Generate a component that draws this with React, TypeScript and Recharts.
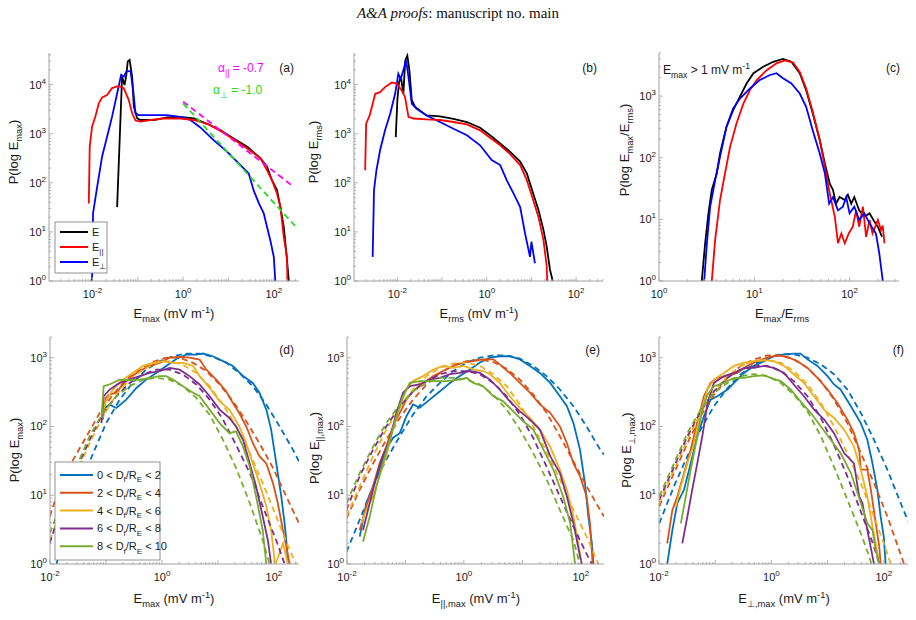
import React from 'react'
import { LineChart, Line, XAxis, YAxis } from 'recharts'

const FONT = '"Liberation Sans", Arial, Helvetica, sans-serif'
const AX = '#a0a0a0'
const TXT = '#1a1a1a'
const MB = '#0072BD'
const MO = '#D95319'
const MY = '#EDB120'
const MP = '#7E2F8E'
const MG = '#77AC30'

// tick label exponents
const xLabTop = [-2, 0, 2]
const xLabC = [0, 1, 2]
const xLabBottom = [-2, 0, 2]
const yLabTop = [0, 1, 2, 3, 4]
const yLabC = [0, 1, 2, 3]
const yLabBottom = [0, 1, 2, 3]

// (a) P(log Emax)
const aE = [[0.035, 32], [0.045, 14500], [0.051, 9800], [0.056, 15800], [0.06, 29500], [0.066, 31800], [0.075, 14500], [0.082, 3550], [0.097, 2050], [0.114, 1900], [0.225, 1900], [0.44, 2150], [0.87, 2200], [1.72, 2060], [3.4, 1590], [6.7, 1180], [13, 800], [26, 540], [51, 315], [71, 212], [91, 113], [118, 71], [140, 32], [166, 12.6], [190, 3.6], [215, 1]]
const aPar = [[0.0083, 38], [0.0087, 540], [0.0098, 1390], [0.0116, 2230], [0.0138, 4160], [0.0163, 5500], [0.021, 6100], [0.027, 8500], [0.038, 9400], [0.049, 8500], [0.063, 4900], [0.075, 2600], [0.089, 1850], [0.114, 1760], [0.19, 1900], [0.375, 2040], [0.87, 2040], [1.72, 1900], [3.4, 1590], [6.7, 1140], [13, 770], [26, 500], [51, 315], [71, 180], [91, 113], [118, 60], [140, 32], [166, 7.9], [195, 3.1], [200, 1]]
const aPerp = [[0.0098, 1], [0.0103, 24], [0.0127, 83], [0.0163, 340], [0.021, 870], [0.027, 2200], [0.035, 6600], [0.043, 15800], [0.049, 14500], [0.056, 18500], [0.069, 19000], [0.079, 7800], [0.089, 2600], [0.105, 2400], [0.225, 2400], [0.44, 2400], [0.87, 2200], [1.45, 1900], [2.4, 1340], [4.7, 740], [9.3, 430], [18.4, 230], [28, 155], [36, 70], [47, 38], [60, 24], [71, 12.6], [84, 6.7], [100, 3.1], [108, 1]]
const aFitPar = [[1, 4500], [275, 83]]
const aFitPerp = [[1, 4150], [300, 13]]

// (b) P(log Erms)
const bE = [[0.0092, 850], [0.01, 4800], [0.0109, 11200], [0.012, 14500], [0.0136, 6500], [0.015, 31000], [0.0167, 39000], [0.0186, 19500], [0.021, 4800], [0.025, 3500], [0.045, 2350], [0.09, 2260], [0.18, 2000], [0.36, 1730], [0.71, 1320], [1.19, 930], [2.0, 630], [3.3, 430], [5.6, 270], [7.9, 155], [11, 60], [14.4, 28], [18.6, 11], [22, 5], [26, 1.7], [30, 1]]
const bPar = [[0.0019, 180], [0.002, 1600], [0.0024, 2350], [0.0032, 6500], [0.0041, 7000], [0.0053, 8900], [0.0075, 11000], [0.0097, 10500], [0.0125, 7600], [0.0148, 5600], [0.0177, 2200], [0.023, 2040], [0.045, 1950], [0.09, 1900], [0.18, 1730], [0.36, 1550], [0.71, 1170], [1.19, 830], [2.0, 580], [3.3, 390], [5.6, 230], [7.9, 113], [11, 44], [14.4, 20], [18.6, 6.8], [22, 2], [22.6, 1]]
const bPerp = [[0.0028, 3.1], [0.003, 71], [0.0034, 180], [0.0041, 460], [0.0053, 1170], [0.0069, 2560], [0.0089, 6500], [0.0105, 16600], [0.0119, 13000], [0.0136, 19500], [0.0157, 31000], [0.0177, 14500], [0.021, 4100], [0.027, 3200], [0.045, 2350], [0.09, 1730], [0.18, 1260], [0.36, 930], [0.71, 580], [1.29, 290], [2.0, 230], [2.8, 113], [4.0, 60], [5.6, 32], [7.2, 9.3], [9.3, 3.1], [10, 6.3], [12, 2.3]]

// (c) P(log Emax/Erms)
const cE = [[2.81, 1], [3.05, 4.1], [3.3, 12.5], [3.58, 30], [4.04, 56], [4.37, 117], [5.1, 316], [6.0, 590], [7.07, 980], [8.3, 1600], [9.8, 2350], [12.4, 3000], [15.8, 3600], [20, 4000], [24.5, 3600], [30, 2350], [35, 1250], [41, 525], [48.6, 194], [55, 81], [62, 38], [67, 30], [72, 18], [78.5, 23], [89, 20.6], [96, 25], [104, 18], [112, 23], [126, 14], [143, 11], [162, 12.5], [182, 9.2], [198, 7.6], [219, 5.2]]
const cPar = [[3.58, 1], [3.88, 4.6], [4.37, 20.6], [4.93, 56], [5.57, 150], [6.5, 360], [7.7, 760], [9.0, 1250], [10.6, 1820], [13.5, 2630], [17.1, 3400], [21, 3800], [25.5, 3500], [30, 2460], [35, 1330], [41, 560], [48.6, 194], [55, 71], [62, 26], [70, 11], [75.5, 4.1], [82, 5.9], [89, 4.1], [98, 5.9], [108, 7.6], [117, 14], [126, 7.6], [138, 16], [149, 5.2], [162, 9.8], [174, 5.9], [198, 9.8], [214, 6.7], [223, 7.9], [232, 4.1]]
const cPerp = [[2.98, 1], [3.18, 4.1], [3.44, 16], [3.88, 43], [4.37, 104], [5.1, 316], [6.0, 630], [7.07, 910], [9.0, 1330], [11.4, 1820], [14.6, 2200], [17.1, 2350], [20, 1950], [24.5, 1600], [30, 1100], [35, 670], [41, 280], [48.6, 117], [55, 56], [61, 18], [67, 23], [75.5, 14], [85, 16], [92, 23], [100, 12.5], [112, 16], [126, 9.8], [143, 12.5], [162, 8.6], [189, 5.9], [205, 2.8], [223, 1]]

// (d) Emax by distance bin, solid = data, dashed = fit
const dBlue = [[0.088, 176], [0.116, 208], [0.153, 186], [0.23, 246], [0.35, 363], [0.52, 480], [0.79, 600], [1.19, 760], [1.8, 960], [2.7, 1110], [4.1, 1110], [5.4, 1150], [8.1, 1050], [12.3, 890], [18.5, 760], [28, 540], [42, 430], [55, 310], [73, 176], [89, 90], [110, 29], [135, 9.6], [155, 3.9], [170, 1.8], [178, 1]]
const dBlueFit = [[0.013, 1], [0.0196, 3.1], [0.034, 13.4], [0.059, 41], [0.101, 112], [0.175, 245], [0.3, 430], [0.52, 670], [0.91, 890], [1.57, 1050], [2.72, 1150], [4.7, 1150], [8.1, 1030], [14, 850], [24, 600], [42, 385], [73, 208], [126, 100], [218, 46], [280, 31]]
const dOrange = [[0.088, 126], [0.099, 260], [0.116, 290], [0.153, 310], [0.188, 385], [0.265, 510], [0.4, 640], [0.6, 760], [0.91, 840], [1.37, 1000], [2.07, 1030], [3.1, 1000], [4.7, 940], [6.2, 670], [9.3, 480], [14, 325], [18.5, 220], [24, 157], [32, 100], [42, 57], [55, 37], [73, 29], [96, 15], [117, 7.7], [145, 3.1], [166, 1.8], [190, 1]]
const dOrangeFit = [[0.0099, 4.9], [0.0149, 13.4], [0.026, 33], [0.045, 72], [0.077, 157], [0.133, 290], [0.23, 480], [0.4, 670], [0.69, 870], [1.19, 1000], [2.07, 1000], [3.6, 840], [6.2, 640], [10.7, 408], [18.5, 233], [32, 119], [55, 57], [96, 25], [166, 9.6], [280, 3.9]]
const dYellow = [[0.088, 166], [0.1, 232], [0.133, 344], [0.2, 480], [0.3, 600], [0.46, 760], [0.69, 840], [1.04, 890], [1.57, 840], [2.37, 840], [3.6, 760], [4.7, 540], [7.1, 363], [10.7, 232], [16, 176], [24, 100], [32, 57], [42, 29], [55, 15], [73, 6.9], [89, 3.1], [103, 1.1], [107, 1], [145, 2.0], [178, 1]]
const dYellowFit = [[0.0099, 2.2], [0.017, 6.9], [0.0295, 21], [0.051, 57], [0.088, 140], [0.153, 290], [0.265, 480], [0.46, 670], [0.79, 840], [1.37, 890], [2.37, 790], [4.1, 600], [7.1, 385], [12.3, 208], [21, 100], [37, 41], [63, 15], [110, 4.9], [190, 1.6], [250, 1]]
const dPurple = [[0.083, 112], [0.091, 275], [0.116, 344], [0.175, 430], [0.265, 480], [0.4, 540], [0.6, 600], [0.91, 640], [1.37, 710], [2.07, 670], [3.1, 540], [4.7, 408], [7.1, 275], [10.7, 176], [16, 133], [21, 100], [28, 64], [37, 29], [48, 13.4], [63, 4.9], [78, 2.2], [89, 1]]
const dPurpleFit = [[0.0099, 2.0], [0.017, 7.7], [0.0295, 23.5], [0.051, 64], [0.088, 157], [0.153, 275], [0.265, 430], [0.46, 570], [0.79, 670], [1.37, 670], [2.37, 570], [4.1, 408], [7.1, 246], [12.3, 126], [21, 54], [37, 21], [63, 6.9], [110, 2.2], [155, 1]]
const dGreen = [[0.083, 133], [0.091, 385], [0.116, 408], [0.175, 480], [0.265, 470], [0.4, 480], [0.6, 510], [0.91, 540], [1.19, 540], [1.57, 480], [2.37, 385], [3.6, 310], [4.7, 275], [7.1, 176], [10.7, 112], [16, 80], [21, 85], [28, 51], [37, 26], [48, 9.6], [63, 3.1], [73, 1]]
const dGreenFit = [[0.0099, 2.8], [0.017, 8.6], [0.0295, 26], [0.051, 72], [0.088, 157], [0.153, 275], [0.265, 385], [0.46, 480], [0.79, 510], [1.37, 480], [2.37, 385], [4.1, 260], [7.1, 148], [12.3, 64], [21, 25], [37, 7.7], [63, 2.2], [84, 1]]

// (e) E parallel max
const eBlue = [[0.0165, 2.5], [0.0214, 7.7], [0.028, 13.5], [0.036, 23.5], [0.047, 46], [0.061, 68], [0.08, 80], [0.104, 141], [0.135, 209], [0.176, 187], [0.26, 246], [0.39, 325], [0.58, 430], [0.85, 540], [1.27, 675], [1.88, 850], [2.8, 1000], [4.1, 1050], [6.1, 1050], [9.1, 945], [13.5, 760], [20, 600], [30, 430], [44, 275], [58, 197], [75, 112], [97, 46], [118, 15], [135, 4.9], [155, 2], [165, 1]]
const eBlueFit = [[0.0098, 1.5], [0.0165, 4.4], [0.028, 13.5], [0.047, 33], [0.08, 72], [0.135, 149], [0.23, 275], [0.39, 430], [0.66, 640], [1.11, 850], [1.88, 1000], [3.2, 1080], [5.4, 1080], [9.1, 970], [15.4, 760], [26, 540], [44, 345], [75, 197], [126, 100], [215, 46], [250, 39]]
const eOrange = [[0.0165, 3.1], [0.0214, 6.9], [0.028, 13.5], [0.036, 29], [0.047, 51], [0.061, 100], [0.08, 158], [0.104, 246], [0.135, 325], [0.2, 430], [0.3, 540], [0.44, 640], [0.66, 760], [0.99, 850], [1.45, 890], [2.14, 945], [3.2, 945], [4.1, 800], [6.1, 600], [9.1, 430], [13.5, 310], [20, 209], [30, 158], [44, 100], [58, 57], [75, 29], [97, 19], [126, 9.6], [144, 3.9], [160, 1]]
const eOrangeFit = [[0.0098, 4.6], [0.0165, 12], [0.028, 29], [0.047, 64], [0.08, 133], [0.135, 246], [0.23, 408], [0.39, 600], [0.66, 775], [1.11, 890], [1.88, 945], [3.2, 865], [5.4, 690], [9.1, 480], [15.4, 290], [26, 158], [44, 72], [75, 31], [126, 13.5], [215, 6.1], [250, 4.9]]
const eYellow = [[0.0176, 3.9], [0.0214, 6.1], [0.028, 9.6], [0.036, 19], [0.047, 37], [0.061, 90], [0.08, 197], [0.104, 345], [0.135, 457], [0.2, 540], [0.3, 675], [0.44, 760], [0.66, 710], [0.99, 760], [1.45, 675], [2.14, 640], [2.8, 575], [4.1, 430], [6.1, 275], [9.1, 187], [13.5, 133], [20, 90], [30, 51], [44, 23.5], [58, 12], [75, 4.9], [91, 2], [104, 1]]
const eYellowFit = [[0.0098, 4.9], [0.0165, 13.5], [0.028, 37], [0.047, 90], [0.08, 187], [0.135, 345], [0.23, 540], [0.39, 710], [0.66, 826], [1.11, 850], [1.88, 760], [3.2, 575], [5.4, 385], [9.1, 209], [15.4, 100], [26, 43], [44, 17], [75, 6.1], [126, 2.5], [200, 1]]
const ePurple = [[0.0188, 3.1], [0.0245, 7.7], [0.032, 19], [0.041, 37], [0.054, 64], [0.07, 158], [0.091, 310], [0.119, 385], [0.176, 408], [0.26, 480], [0.39, 510], [0.58, 575], [0.85, 600], [1.27, 640], [1.88, 600], [2.8, 480], [4.1, 345], [6.1, 232], [9.1, 166], [13.5, 126], [20, 90], [30, 37], [44, 21], [58, 9.6], [75, 3.9], [97, 1.3], [104, 1]]
const ePurpleFit = [[0.0098, 6.1], [0.0165, 19], [0.028, 46], [0.047, 100], [0.08, 197], [0.135, 325], [0.23, 457], [0.39, 575], [0.66, 640], [1.11, 640], [1.88, 575], [3.2, 430], [5.4, 275], [9.1, 149], [15.4, 68], [26, 26], [44, 9.6], [75, 3.5], [126, 1.4], [155, 1]]
const eGreen = [[0.0188, 2.1], [0.0245, 4.9], [0.032, 13.5], [0.041, 29], [0.054, 64], [0.07, 141], [0.091, 275], [0.119, 430], [0.176, 457], [0.3, 457], [0.5, 457], [0.85, 480], [1.11, 510], [1.45, 430], [2.14, 385], [3.2, 275], [4.7, 232], [7.0, 166], [10.4, 119], [15.4, 90], [23, 46], [34, 23.5], [50, 9.6], [66, 3.9], [80, 1]]
const eGreenFit = [[0.0098, 7.7], [0.0165, 21], [0.028, 51], [0.047, 112], [0.08, 209], [0.135, 325], [0.23, 430], [0.39, 510], [0.66, 510], [1.11, 480], [1.88, 408], [3.2, 290], [5.4, 176], [9.1, 90], [15.4, 41], [26, 17], [44, 6.1], [75, 2.2], [97, 1]]

// (f) E perp max
const fBlue = [[0.014, 1], [0.0173, 3.1], [0.0212, 7.7], [0.0279, 12], [0.0366, 29], [0.048, 72], [0.063, 141], [0.083, 246], [0.109, 275], [0.166, 345], [0.216, 430], [0.326, 600], [0.49, 760], [0.74, 890], [1.11, 1050], [1.68, 1120], [2.5, 1150], [3.3, 1150], [4.4, 945], [6.6, 760], [10, 540], [13, 408], [17, 345], [26, 197], [39, 112], [51, 64], [63, 29], [77, 12], [88, 4.9], [100, 2.5], [108, 1]]
const fBlueFit = [[0.0101, 3.9], [0.0185, 13.5], [0.032, 37], [0.055, 90], [0.095, 197], [0.166, 363], [0.284, 575], [0.49, 800], [0.85, 1000], [1.47, 1120], [2.5, 1120], [4.4, 1000], [7.6, 800], [13, 575], [22.5, 345], [39, 158], [67, 64], [116, 23.5], [200, 7.7], [270, 4.2]]
const fOrange = [[0.014, 2], [0.0173, 6.1], [0.0212, 9.6], [0.0279, 21], [0.0366, 46], [0.048, 112], [0.063, 275], [0.083, 430], [0.109, 510], [0.166, 540], [0.248, 600], [0.374, 760], [0.56, 890], [0.85, 1000], [1.28, 1080], [1.93, 1030], [2.9, 890], [4.4, 710], [6.6, 510], [10, 345], [15, 220], [22.5, 126], [29.5, 80], [36.5, 46], [39, 23.5], [51, 23.5], [59, 12], [72, 3.9], [83, 1.8], [88, 1]]
const fOrangeFit = [[0.0101, 6.9], [0.0185, 21], [0.032, 57], [0.055, 141], [0.095, 290], [0.166, 510], [0.284, 760], [0.49, 945], [0.85, 1080], [1.47, 1080], [2.5, 945], [4.4, 710], [7.6, 457], [13, 246], [22.5, 112], [39, 41], [67, 15], [116, 4.9], [188, 1.6], [230, 1]]
const fYellow = [[0.02, 6.9], [0.0245, 13.5], [0.032, 29], [0.042, 57], [0.055, 158], [0.073, 345], [0.095, 480], [0.144, 600], [0.216, 760], [0.326, 850], [0.49, 890], [0.74, 920], [1.11, 890], [1.68, 760], [2.5, 575], [3.8, 430], [5.75, 275], [8.7, 176], [13, 133], [19.7, 90], [29.5, 51], [39, 23.5], [51, 9.6], [63, 3.5], [72, 2], [83, 1]]
const fYellowFit = [[0.0101, 7.7], [0.0185, 23.5], [0.032, 64], [0.055, 158], [0.095, 325], [0.166, 540], [0.284, 760], [0.49, 890], [0.85, 920], [1.47, 850], [2.5, 640], [4.4, 408], [7.6, 220], [13, 100], [22.5, 41], [39, 15], [67, 4.9], [100, 2], [133, 1]]
const fPurple = [[0.026, 2], [0.032, 4.9], [0.039, 12], [0.048, 29], [0.059, 72], [0.073, 220], [0.095, 430], [0.144, 540], [0.216, 600], [0.326, 710], [0.49, 710], [0.74, 760], [1.11, 710], [1.68, 600], [2.5, 408], [3.8, 275], [5.75, 176], [8.7, 126], [13, 80], [19.7, 41], [29.5, 29], [36.5, 9.6], [41.7, 7.7], [51, 3.1], [63, 1.3], [67, 1]]
const fPurpleFit = [[0.0101, 8.6], [0.0185, 26], [0.032, 72], [0.055, 166], [0.095, 325], [0.166, 510], [0.284, 675], [0.49, 760], [0.85, 760], [1.47, 640], [2.5, 457], [4.4, 275], [7.6, 133], [13, 54], [22.5, 18.8], [39, 5.8], [67, 1.8], [83, 1]]
const fGreen = [[0.0245, 3.9], [0.03, 9.6], [0.0366, 23.5], [0.048, 72], [0.059, 176], [0.073, 290], [0.095, 385], [0.144, 430], [0.216, 510], [0.326, 510], [0.49, 540], [0.74, 555], [0.97, 510], [1.47, 457], [2.2, 345], [3.3, 232], [5.0, 158], [7.6, 100], [11.4, 64], [17, 41], [26, 21], [39, 7.7], [51, 3.9], [63, 3.1], [72, 1.6], [83, 1]]
const fGreenFit = [[0.0101, 9.6], [0.0185, 29], [0.032, 80], [0.055, 176], [0.095, 310], [0.166, 430], [0.284, 540], [0.49, 575], [0.85, 540], [1.47, 430], [2.5, 290], [4.4, 166], [7.6, 72], [13, 26], [22.5, 8.6], [39, 2.8], [55, 1.3], [60, 1]]

type Series = { d: number[][]; c: string; dash?: string; w?: number }

const toPts = (d: number[][]) => d.map(([x, y]) => ({ x, y }))

function logTicks([a, b]: number[]) {
  const out: number[] = []
  for (let e = Math.floor(Math.log10(a)); e <= Math.ceil(Math.log10(b)); e++) {
    for (let m = 1; m < 10; m++) {
      const v = m * Math.pow(10, e)
      if (v >= a * 0.999 && v <= b * 1.001) out.push(v)
    }
  }
  return out
}

function isDecade(v: number) {
  const lg = Math.log10(v)
  return Math.abs(lg - Math.round(lg)) < 1e-6
}

function XTick(p: any) {
  const { x, y, payload, labels, top } = p
  const v = payload.value
  const major = isDecade(v)
  const e = Math.round(Math.log10(v))
  const len = major ? 4 : 2
  return (
    <g>
      <line x1={x} x2={x} y1={y} y2={top ? y + len : y - len} stroke={AX} strokeWidth={0.8} />
      {!top && major && labels.includes(e) && (
        <text x={x} y={y + 17} textAnchor="middle" fontSize={11} fill={TXT}>
          10<tspan dy={-5} fontSize={8}>{e}</tspan>
        </text>
      )}
    </g>
  )
}

function YTick(p: any) {
  const { x, y, payload, labels, right } = p
  const v = payload.value
  const major = isDecade(v)
  const e = Math.round(Math.log10(v))
  const len = major ? 4 : 2
  return (
    <g>
      <line x1={x} x2={right ? x - len : x + len} y1={y} y2={y} stroke={AX} strokeWidth={0.8} />
      {!right && major && labels.includes(e) && (
        <text x={x - 3} y={y + 4} textAnchor="end" fontSize={11} fill={TXT}>
          10<tspan dy={-5} fontSize={8}>{e}</tspan>
        </text>
      )}
    </g>
  )
}

type PanelProps = {
  x0: number; y0: number; w: number; h: number
  xDomain: number[]; yDomain: number[]
  xLabels: number[]; yLabels: number[]
  series: Series[]
}

function Panel({ x0, y0, w, h, xDomain, yDomain, xLabels, yLabels, series }: PanelProps) {
  const L = 45, T = 5, R = 5, B = 40
  const xt = logTicks(xDomain)
  const yt = logTicks(yDomain)
  return (
    <div style={{ position: 'absolute', left: x0 - L, top: y0 - T }}>
      <LineChart width={w + L + R} height={h + T + B} margin={{ top: T, right: R, left: 0, bottom: 0 }}>
        <XAxis xAxisId="b" type="number" dataKey="x" scale="log" domain={xDomain} allowDataOverflow
          ticks={xt} interval={0} height={B} tickSize={0} tickMargin={0} axisLine={{ stroke: AX }}
          tick={(p: any) => <XTick {...p} labels={xLabels} />} />
        <XAxis xAxisId="t" orientation="top" type="number" dataKey="x" scale="log" domain={xDomain} allowDataOverflow
          ticks={xt} interval={0} height={0} tickSize={0} tickMargin={0} axisLine={{ stroke: AX }}
          tick={(p: any) => <XTick {...p} top />} />
        <YAxis yAxisId="l" type="number" scale="log" domain={yDomain} allowDataOverflow
          ticks={yt} interval={0} width={L} tickSize={0} tickMargin={0} axisLine={{ stroke: AX }}
          tick={(p: any) => <YTick {...p} labels={yLabels} />} />
        <YAxis yAxisId="r" orientation="right" type="number" scale="log" domain={yDomain} allowDataOverflow
          ticks={yt} interval={0} width={0} tickSize={0} tickMargin={0} axisLine={{ stroke: AX }}
          tick={(p: any) => <YTick {...p} right />} />
        {series.map((s, i) => (
          <Line key={i} xAxisId="b" yAxisId="l" data={toPts(s.d)} dataKey="y" type="linear"
            stroke={s.c} strokeWidth={s.w ?? 1.8} strokeDasharray={s.dash} dot={false} activeDot={false}
            isAnimationActive={false} />
        ))}
      </LineChart>
    </div>
  )
}

type Seg = [string, string?]

function Rich({ x, y, parts, size = 13, anchor = 'start', rot = false, fill = TXT }:
  { x: number; y: number; parts: Seg[]; size?: number; anchor?: string; rot?: boolean; fill?: string }) {
  let shift = 0
  return (
    <text x={x} y={y} fontSize={size} textAnchor={anchor as any} fill={fill}
      transform={rot ? `rotate(-90 ${x} ${y})` : undefined}>
      {parts.map(([t, k], i) => {
        const target = k === 'sub' ? size * 0.3 : k === 'sup' ? -size * 0.4 : 0
        const dy = target - shift
        shift = target
        return <tspan key={i} dy={dy} fontSize={k ? size * 0.72 : size}>{t}</tspan>
      })}
    </text>
  )
}

const DASH = '6 4'
const group = (solid: number[][], fit: number[][], c: string): Series[] => [
  { d: solid, c }, { d: fit, c, dash: DASH },
]

const unitParts: Seg[] = [[' (mV m'], ['-1', 'sup'], [')']]
const bins = ['0', '2', '4', '6', '8']
const binEnds = ['2', '4', '6', '8', '10']
const binColors = [MB, MO, MY, MP, MG]

export default function App() {
  const topY = 53, topH = 228
  const botY = 337, botH = 227
  return (
    <div style={{ position: 'absolute', left: 0, top: 0, width: 916, height: 620, background: '#fff', fontFamily: FONT }}>
      <Panel x0={49} y0={topY} w={250} h={topH} xDomain={[1.1e-3, 360]} yDomain={[1, 4.4e4]}
        xLabels={xLabTop} yLabels={yLabTop}
        series={[
          { d: aE, c: '#000' }, { d: aPerp, c: '#0000ff' }, { d: aPar, c: '#ff0000' },
          { d: aFitPar, c: '#ff00ff', dash: DASH }, { d: aFitPerp, c: '#22dd22', dash: DASH },
        ]} />
      <Panel x0={354} y0={topY} w={249} h={topH} xDomain={[1.07e-3, 400]} yDomain={[1, 4.4e4]}
        xLabels={xLabTop} yLabels={yLabTop}
        series={[{ d: bE, c: '#000' }, { d: bPerp, c: '#0000ff' }, { d: bPar, c: '#ff0000' }]} />
      <Panel x0={659} y0={topY} w={240} h={topH} xDomain={[1, 330]} yDomain={[1, 5000]}
        xLabels={xLabC} yLabels={yLabC}
        series={[{ d: cE, c: '#000' }, { d: cPar, c: '#ff0000' }, { d: cPerp, c: '#0000ff' }]} />
      <Panel x0={50} y0={botY} w={249} h={botH} xDomain={[0.01, 280]} yDomain={[1, 2000]}
        xLabels={xLabBottom} yLabels={yLabBottom}
        series={[
          ...group(dBlue, dBlueFit, MB), ...group(dOrange, dOrangeFit, MO), ...group(dYellow, dYellowFit, MY),
          ...group(dPurple, dPurpleFit, MP), ...group(dGreen, dGreenFit, MG),
        ]} />
      <Panel x0={347} y0={botY} w={257} h={botH} xDomain={[0.01, 250]} yDomain={[1, 2000]}
        xLabels={xLabBottom} yLabels={yLabBottom}
        series={[
          ...group(eBlue, eBlueFit, MB), ...group(eOrange, eOrangeFit, MO), ...group(eYellow, eYellowFit, MY),
          ...group(ePurple, ePurpleFit, MP), ...group(eGreen, eGreenFit, MG),
        ]} />
      <Panel x0={659} y0={botY} w={249} h={botH} xDomain={[0.01, 270]} yDomain={[1, 2000]}
        xLabels={xLabBottom} yLabels={yLabBottom}
        series={[
          ...group(fBlue, fBlueFit, MB), ...group(fOrange, fOrangeFit, MO), ...group(fYellow, fYellowFit, MY),
          ...group(fPurple, fPurpleFit, MP), ...group(fGreen, fGreenFit, MG),
        ]} />

      <svg width={916} height={620} style={{ position: 'absolute', left: 0, top: 0, pointerEvents: 'none', fontFamily: FONT }}>
        <text x={458} y={18} textAnchor="middle" fontSize={15} fill="#111" fontFamily='"Liberation Serif", "Times New Roman", serif'>
          <tspan fontStyle="italic">A&amp;A proofs</tspan>: manuscript no. main
        </text>

        {/* y titles */}
        <Rich x={18} y={152} rot anchor="middle" parts={[['P(log E'], ['max', 'sub'], [')']]} />
        <Rich x={318} y={152} rot anchor="middle" parts={[['P(log E'], ['rms', 'sub'], [')']]} />
        <Rich x={629} y={150} rot anchor="middle" parts={[['P(log E'], ['max', 'sub'], ['/E'], ['rms', 'sub'], [')']]} />
        <Rich x={19} y={450} rot anchor="middle" parts={[['P(log E'], ['max', 'sub'], [')']]} />
        <Rich x={319} y={448} rot anchor="middle" parts={[['P(log E'], ['||,max', 'sub'], [')']]} />
        <Rich x={631} y={450} rot anchor="middle" parts={[['P(log E'], ['⊥,max', 'sub'], [')']]} />

        {/* x titles */}
        <Rich x={174} y={318} anchor="middle" parts={[['E'], ['max', 'sub'], ...unitParts]} />
        <Rich x={479} y={318} anchor="middle" parts={[['E'], ['rms', 'sub'], ...unitParts]} />
        <Rich x={782} y={318} anchor="middle" parts={[['E'], ['max', 'sub'], ['/E'], ['rms', 'sub']]} />
        <Rich x={174} y={603} anchor="middle" parts={[['E'], ['max', 'sub'], ...unitParts]} />
        <Rich x={476} y={603} anchor="middle" parts={[['E'], ['||,max', 'sub'], ...unitParts]} />
        <Rich x={784} y={603} anchor="middle" parts={[['E'], ['⊥,max', 'sub'], ...unitParts]} />

        {/* panel letters */}
        <text x={294} y={72} textAnchor="end" fontSize={12} fill={TXT}>(a)</text>
        <text x={597} y={72} textAnchor="end" fontSize={12} fill={TXT}>(b)</text>
        <text x={900} y={72} textAnchor="end" fontSize={12} fill={TXT}>(c)</text>
        <text x={294} y={354} textAnchor="end" fontSize={12} fill={TXT}>(d)</text>
        <text x={600} y={354} textAnchor="end" fontSize={12} fill={TXT}>(e)</text>
        <text x={904} y={354} textAnchor="end" fontSize={12} fill={TXT}>(f)</text>

        {/* annotations */}
        <Rich x={218} y={72} size={12} fill="#ff00ff" parts={[['α'], ['||', 'sub'], [' = -0.7']]} />
        <Rich x={213} y={94} size={12} fill="#22dd22" parts={[['α'], ['⊥', 'sub'], [' = -1.0']]} />
        <Rich x={663} y={74} size={12} parts={[['E'], ['max', 'sub'], [' > 1 mV m'], ['-1', 'sup']]} />

        {/* legend (a) */}
        <rect x={55} y={222} width={52} height={51} fill="#fff" stroke="#777" strokeWidth={0.8} />
        {[['#000', [['E']]], ['#ff0000', [['E'], ['||', 'sub']]], ['#0000ff', [['E'], ['⊥', 'sub']]]].map(([c, parts]: any, i) => (
          <g key={i}>
            <line x1={60} x2={88} y1={232 + i * 15} y2={232 + i * 15} stroke={c} strokeWidth={2} />
            <Rich x={92} y={236 + i * 15} size={11} parts={parts} />
          </g>
        ))}

        {/* legend (d) */}
        <rect x={55} y={462} width={105} height={98} fill="#fff" stroke="#777" strokeWidth={0.8} />
        {bins.map((b, i) => (
          <g key={i}>
            <line x1={60} x2={93} y1={475 + i * 17.8} y2={475 + i * 17.8} stroke={binColors[i]} strokeWidth={2} />
            <Rich x={97} y={479 + i * 17.8} size={11}
              parts={[[`${b} < D`], ['f', 'sub'], ['/R'], ['E', 'sub'], [` < ${binEnds[i]}`]]} />
          </g>
        ))}
      </svg>
    </div>
  )
}
